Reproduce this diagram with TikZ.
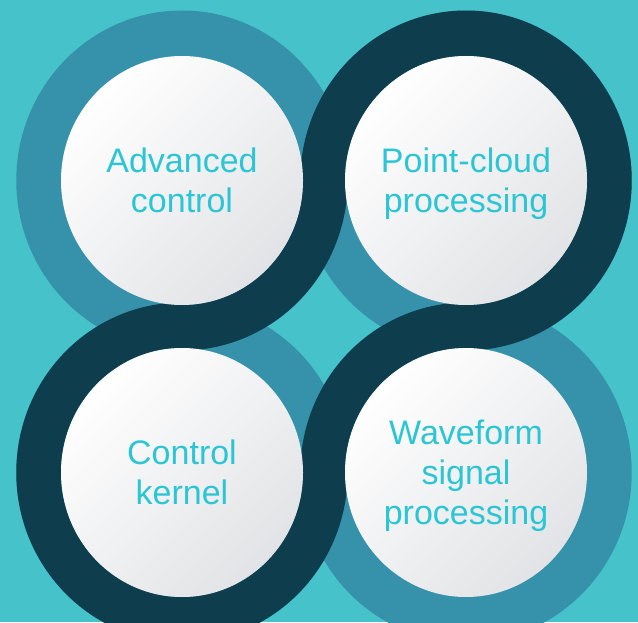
\documentclass[tikz,border=0pt]{standalone}
\usepackage{fontspec}
\setmainfont{Liberation Sans}
\usetikzlibrary{shapes.geometric}
\definecolor{bgc}{HTML}{46C3CA}
\definecolor{midc}{HTML}{3592AA}
\definecolor{darkc}{HTML}{0E3E4E}
\definecolor{txtc}{HTML}{2BC6D5}
\definecolor{shadec}{HTML}{E2E3E6}
\tikzset{
  disc/.style={ellipse, minimum width=181.5pt, minimum height=186.75pt, inner sep=0pt,
    top color=white, bottom color=shadec, shading angle=45, text=txtc, align=center,
    text depth=0pt, font=\fontsize{25.5}{30}\selectfont},
  ringfill/.style={fill=midc},
  darkfill/.style={fill=darkc}
}
\newcommand\darkband[2]{%
  \fill[darkfill] (#1:124.3pt and 127.5pt) arc[start angle=#1, end angle=#2, x radius=124.3pt, y radius=127.5pt]
    -- (#2:90.75pt and 93.4pt) arc[start angle=#2, end angle=#1, x radius=90.75pt, y radius=93.4pt] -- cycle;}
\begin{document}
\begin{tikzpicture}[x=0.75pt,y=0.75pt]
\useasboundingbox (0,0) rectangle (638,622);
\clip (0,0) rectangle (638,622);
\fill[bgc] (0,0) rectangle (638,622);
\coordinate (cTL) at (182,441.5);
\coordinate (cTR) at (466,441.5);
\coordinate (cBL) at (182,149.5);
\coordinate (cBR) at (466,149.5);
\foreach \c in {cTL,cTR,cBL,cBR}
  \fill[ringfill] (\c) ellipse[x radius=124.3pt, y radius=127.5pt];
\begin{scope}[shift={(cTL)}]\darkband{-93}{3}\end{scope}
\begin{scope}[shift={(cTR)}]\darkband{-93}{183}\end{scope}
\begin{scope}[shift={(cBL)}]\darkband{87}{363}\end{scope}
\begin{scope}[shift={(cBR)}]\darkband{87}{183}\end{scope}
\node[disc] (tl) at (cTL) {Advanced\\control};
\node[disc] (tr) at (cTR) {Point-cloud\\processing};
\node[disc] (bl) at (cBL) {Control\\kernel};
\node[disc] (br) at (cBR) {Waveform\\signal\\processing};
\end{tikzpicture}
\end{document}
